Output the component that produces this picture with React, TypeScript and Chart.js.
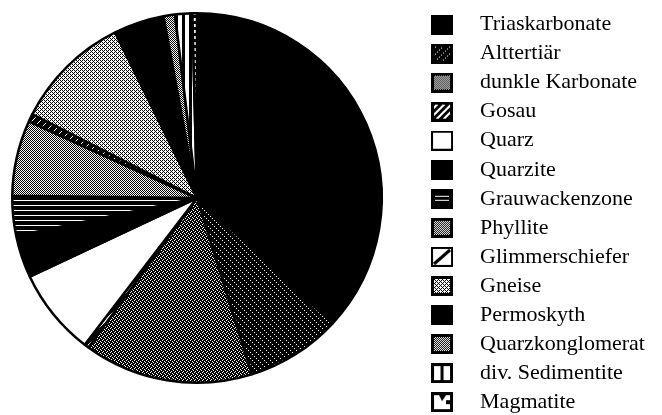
import React, { useEffect, useRef } from "react";
import { Chart, registerables } from "chart.js";

Chart.register(...registerables);

// ---- data (% of total) ----
const CATEGORIES: string[] = [
  "Triaskarbonate",
  "Alttertiär",
  "dunkle Karbonate",
  "Gosau",
  "Quarz",
  "Quarzite",
  "Grauwackenzone",
  "Phyllite",
  "Glimmerschiefer",
  "Gneise",
  "Permoskyth",
  "Quarzkonglomerat",
  "div. Sedimentite",
  "Magmatite",
];
const SHARES: number[] = [36.9, 8.3, 14.8, 0.4, 7.6, 3.7, 3.5, 6.6, 0.7, 10.2, 4.4, 1.0, 1.5, 0.4];
const FILL_KINDS: string[] = [
  "solid", "alt", "dark", "gosau", "white", "solid", "grau",
  "mid", "glim", "light", "solid", "mid", "sed", "mag",
];

// ---- layout constants ----
const PIE_CX = 197;
const PIE_CY = 198;
const PIE_R = 186;
const LEGEND_LEFT = 408;
const LEGEND_TOP = 6.45;
const FONT = { family: "'Liberation Serif', 'Times New Roman', serif", size: 22 };

function tile(w: number, h: number, black: (x: number, y: number) => boolean): HTMLCanvasElement {
  const c = document.createElement("canvas");
  c.width = w;
  c.height = h;
  const ctx = c.getContext("2d")!;
  ctx.fillStyle = "#fff";
  ctx.fillRect(0, 0, w, h);
  ctx.fillStyle = "#000";
  for (let y = 0; y < h; y++) for (let x = 0; x < w; x++) if (black(x, y)) ctx.fillRect(x, y, 1, 1);
  return c;
}

function rowsTile(rows: string[]): HTMLCanvasElement {
  return tile(rows[0].length, rows.length, (x, y) => rows[y][x] === "X");
}

function makeTiles(): Record<string, HTMLCanvasElement> {
  return {
    alt: tile(6, 6, (x, y) => !(x === y && x % 2 === 0)),
    dark: rowsTile(["XX.X", ".XXX", "X.XX", "XXX."]),
    gosau: tile(8, 8, (x, y) => (x + y) % 8 >= 3),
    grau: tile(1, 5, (_x, y) => y !== 0),
    mid: rowsTile(["X.", ".X"]),
    glim: tile(8, 8, (x, y) => (x + y) % 8 !== 0),
    light: rowsTile(["X.X.", ".X..", "X.X.", "...X"]),
    sed: tile(7, 1, (x) => x < 3),
    mag: tile(1, 6, (_x, y) => y >= 3),
  };
}

function fillFor(kind: string, ctx: CanvasRenderingContext2D, tiles: Record<string, HTMLCanvasElement>): string | CanvasPattern {
  if (kind === "solid") return "#000";
  if (kind === "white") return "#fff";
  return ctx.createPattern(tiles[kind], "repeat")!;
}

function swatch(kind: string, tiles: Record<string, HTMLCanvasElement>): HTMLCanvasElement {
  const W = 22, H = 20;
  const c = document.createElement("canvas");
  c.width = W;
  c.height = H;
  const g = c.getContext("2d")!;
  const black = () => { g.fillStyle = "#000"; g.fillRect(0, 0, W, H); };
  const whiteInner = (b: number) => { black(); g.fillStyle = "#fff"; g.fillRect(b, b, W - 2 * b, H - 2 * b); };
  const px = (x: number, y: number, col: string) => { g.fillStyle = col; g.fillRect(x, y, 1, 1); };
  switch (kind) {
    case "solid":
      black();
      break;
    case "alt":
      black();
      for (let y = 3; y < 17; y++) for (let x = 3; x < 19; x++) if ((x + y) % 7 === 0 && x % 2 === 0) px(x, y, "#fff");
      break;
    case "dark":
    case "mid":
    case "light": {
      whiteInner(3);
      const pat = g.createPattern(tiles[kind === "dark" ? "mid" : kind], "repeat")!;
      g.fillStyle = pat;
      g.fillRect(3, 3, W - 6, H - 6);
      break;
    }
    case "gosau":
      black();
      for (let y = 3; y < 17; y++) for (let x = 3; x < 19; x++) if ((x + y) % 7 < 3) px(x, y, "#fff");
      break;
    case "white":
      whiteInner(2);
      break;
    case "grau":
      black();
      g.fillStyle = "#fff";
      g.fillRect(4, 7, 14, 1);
      g.fillRect(4, 11, 14, 1);
      break;
    case "glim":
      whiteInner(2);
      g.strokeStyle = "#000";
      g.lineWidth = 3;
      g.beginPath();
      g.moveTo(3, 17);
      g.lineTo(19, 3);
      g.stroke();
      break;
    case "sed":
      whiteInner(3);
      g.fillStyle = "#000";
      g.fillRect(9.5, 0, 3, H);
      break;
    case "mag":
      whiteInner(3);
      g.fillStyle = "#000";
      g.beginPath();
      g.moveTo(8, 3);
      g.lineTo(15, 3);
      g.lineTo(11, 9);
      g.closePath();
      g.fill();
      g.fillRect(15, 8, 4, 4);
      break;
  }
  return c;
}

const placement = {
  id: "placement",
  afterLayout(chart: any) {
    const side = PIE_R * 2;
    const a = chart.chartArea;
    a.left = PIE_CX - PIE_R;
    a.right = PIE_CX + PIE_R;
    a.top = PIE_CY - PIE_R;
    a.bottom = PIE_CY + PIE_R;
    a.width = side;
    a.height = side;
    const lg = chart.legend;
    if (lg) {
      lg.left = LEGEND_LEFT;
      lg.right = chart.width;
      lg.top = LEGEND_TOP;
      lg.bottom = chart.height + 40;
      lg.width = lg.right - lg.left;
      lg.height = lg.bottom - lg.top;
    }
  },
};

export default function App() {
  const ref = useRef<HTMLCanvasElement | null>(null);

  useEffect(() => {
    const canvas = ref.current;
    if (!canvas) return;
    const ctx = canvas.getContext("2d")!;
    const tiles = makeTiles();
    const fills = FILL_KINDS.map((k) => fillFor(k, ctx, tiles));
    const swatches = FILL_KINDS.map((k) => swatch(k, tiles));

    const chart = new Chart(canvas, {
      type: "pie",
      data: {
        labels: CATEGORIES,
        datasets: [
          {
            data: SHARES,
            backgroundColor: fills as any,
            borderColor: "#000",
            borderWidth: 2.5,
            clip: false as any,
          },
        ],
      },
      options: {
        responsive: false,
        animation: false,
        events: [],
        layout: { padding: 0 },
        plugins: {
          tooltip: { enabled: false },
          title: { display: false },
          legend: {
            display: true,
            position: "right",
            align: "start",
            labels: {
              usePointStyle: true,
              pointStyleWidth: 54,
              padding: 7.05,
              color: "#000",
              textAlign: "left",
              font: FONT,
              generateLabels: () =>
                CATEGORIES.map((text, i) => ({
                  text,
                  fillStyle: "#000",
                  strokeStyle: "#000",
                  lineWidth: 0,
                  pointStyle: swatches[i] as any,
                  hidden: false,
                  index: i,
                  fontColor: "#000",
                })),
            },
          },
        },
      },
      plugins: [placement],
    });
    return () => chart.destroy();
  }, []);

  return (
    <div style={{ position: "fixed", left: 0, top: 0, width: 662, height: 415, background: "#fff" }}>
      <canvas ref={ref} width={662} height={415} style={{ display: "block" }} />
    </div>
  );
}
